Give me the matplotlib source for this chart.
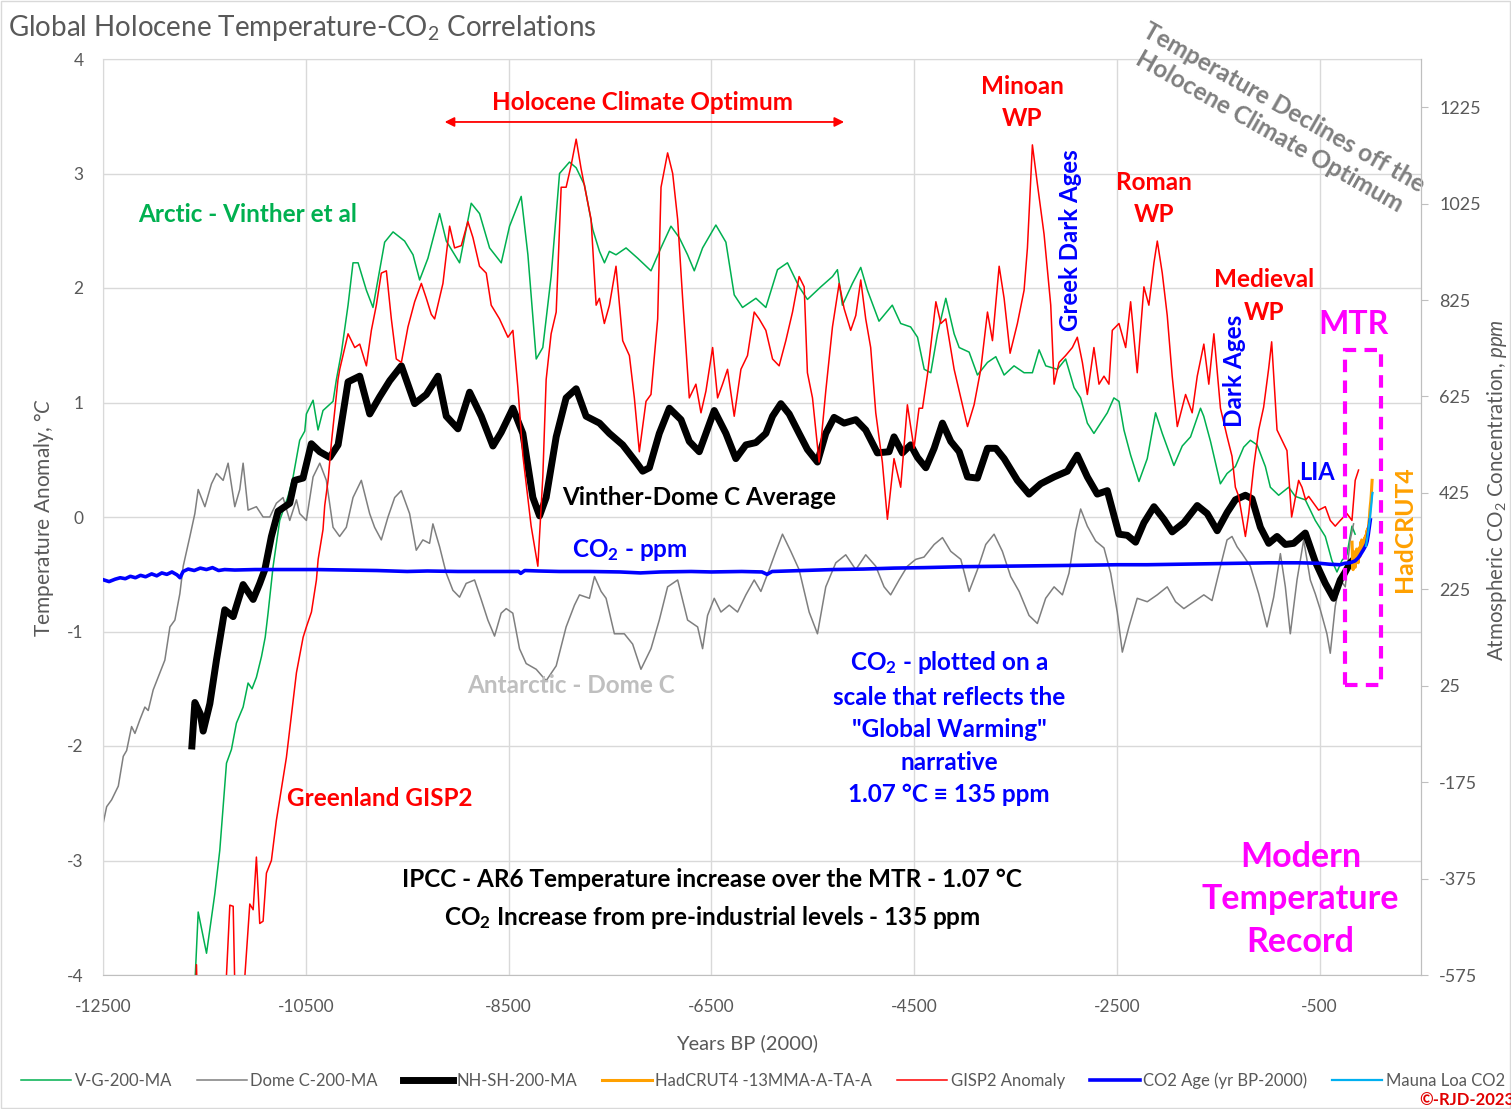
import matplotlib.pyplot as plt
from matplotlib.patches import Rectangle

plt.rcParams['font.family'] = ['Lato', 'DejaVu Sans']
plt.rcParams['mathtext.fontset'] = 'custom'
plt.rcParams['mathtext.rm'] = 'Lato'
plt.rcParams['mathtext.it'] = 'Lato:italic'
plt.rcParams['mathtext.bf'] = 'Lato:bold'
plt.rcParams['mathtext.default'] = 'regular'
plt.rcParams['axes.unicode_minus'] = False

# Arctic - Vinther et al (V-G-200-MA), years BP(2000) / anomaly degC
vg_year = [-11600, -11561, -11479, -11397, -11348, -11282, -11233, -11184, -11118, -11069,
           -11030, -10987, -10937, -10900, -10872, -10822, -10757, -10675, -10625, -10560,
           -10510, -10494, -10428, -10379, -10330, -10231, -10198, -10148, -10083, -10034,
           -9984, -9902, -9837, -9771, -9722, -9639, -9525, -9442, -9377, -9295,
           -9180, -9114, -8983, -8868, -8786, -8687, -8572, -8490, -8375, -8309,
           -8227, -8162, -8080, -7997, -7899, -7833, -7751, -7669, -7603, -7554,
           -7505, -7440, -7341, -7226, -7095, -6997, -6898, -6816, -6734, -6668,
           -6586, -6455, -6356, -6274, -6192, -6060, -5962, -5847, -5749, -5634,
           -5552, -5420, -5305, -5256, -5207, -5108, -5026, -4960, -4846, -4715,
           -4632, -4534, -4466, -4400, -4335, -4269, -4187, -4105, -4055, -3957,
           -3875, -3776, -3694, -3612, -3514, -3415, -3333, -3267, -3201, -3086,
           -3005, -2922, -2857, -2791, -2726, -2660, -2594, -2529, -2479, -2430,
           -2364, -2282, -2200, -2118, -2052, -1937, -1855, -1773, -1675, -1643,
           -1576, -1479, -1413, -1331, -1249, -1183, -1117, -1035, -986, -904,
           -805, -740, -641, -543, -444, -379, -329, -280, -231, -181, -150]
vg_temp = [-4.2, -3.45, -3.81, -3.29, -2.91, -2.15, -2.03, -1.80, -1.66, -1.45,
           -1.50, -1.40, -1.22, -1.05, -0.84, -0.43, -0.03, 0.18, 0.35, 0.67,
           0.75, 0.90, 1.02, 0.76, 0.93, 1.01, 1.20, 1.44, 1.85, 2.22,
           2.22, 1.98, 1.83, 2.16, 2.40, 2.49, 2.41, 2.29, 2.07, 2.26,
           2.65, 2.41, 2.22, 2.74, 2.65, 2.35, 2.22, 2.54, 2.80, 2.29,
           1.38, 1.48, 2.10, 3.00, 3.10, 3.05, 2.90, 2.51, 2.32, 2.22,
           2.32, 2.29, 2.35, 2.26, 2.15, 2.35, 2.54, 2.44, 2.29, 2.15,
           2.35, 2.55, 2.40, 1.94, 1.83, 1.91, 1.83, 2.16, 2.22, 2.01,
           1.90, 2.01, 2.10, 2.16, 1.85, 2.04, 2.18, 1.98, 1.71, 1.85,
           1.69, 1.66, 1.57, 1.29, 1.26, 1.60, 1.91, 1.60, 1.48, 1.44,
           1.24, 1.35, 1.40, 1.24, 1.32, 1.26, 1.26, 1.46, 1.32, 1.29,
           1.38, 1.13, 1.04, 0.82, 0.73, 0.82, 0.91, 1.04, 1.01, 0.76,
           0.54, 0.31, 0.51, 0.91, 0.73, 0.45, 0.62, 0.70, 0.95, 0.88,
           0.66, 0.29, 0.38, 0.44, 0.61, 0.67, 0.63, 0.44, 0.26, 0.19,
           0.26, 0.18, 0.15, -0.03, -0.17, -0.38, -0.48, -0.38, -0.33, -0.08, -0.15]

# Antarctic - Dome C (Dome C-200-MA)
dc_year = [-12497, -12464, -12415, -12349, -12300, -12267, -12218, -12185, -12136, -12087,
           -12054, -12005, -11939, -11890, -11840, -11791, -11742, -11709, -11643, -11594,
           -11561, -11495, -11430, -11380, -11315, -11266, -11200, -11151, -11118, -11069,
           -10987, -10921, -10855, -10790, -10724, -10658, -10592, -10560, -10494, -10428,
           -10362, -10297, -10231, -10166, -10100, -10034, -9952, -9870, -9821, -9755,
           -9689, -9623, -9558, -9476, -9410, -9345, -9279, -9246, -9180, -9115,
           -9049, -8983, -8918, -8835, -8770, -8704, -8638, -8573, -8523, -8458,
           -8392, -8326, -8227, -8129, -8030, -7932, -7850, -7800, -7702, -7652,
           -7587, -7538, -7456, -7358, -7276, -7194, -7095, -7013, -6931, -6832,
           -6734, -6635, -6586, -6537, -6471, -6405, -6323, -6241, -6159, -6077,
           -6011, -5929, -5863, -5798, -5716, -5634, -5535, -5453, -5371, -5272,
           -5174, -5075, -4977, -4878, -4796, -4731, -4648, -4566, -4484, -4402,
           -4302, -4220, -4138, -4039, -3957, -3875, -3793, -3711, -3629, -3547,
           -3464, -3366, -3284, -3202, -3119, -3037, -2972, -2906, -2857, -2791,
           -2709, -2627, -2561, -2496, -2446, -2381, -2299, -2200, -2102, -2003,
           -1921, -1839, -1740, -1642, -1561, -1495, -1413, -1364, -1314, -1265,
           -1183, -1101, -1019, -953, -887, -838, -789, -723, -657, -592,
           -543, -493, -428, -395, -346, -296, -247, -198, -165]
dc_temp = [-2.67, -2.53, -2.47, -2.35, -2.09, -2.04, -1.83, -1.89, -1.77, -1.66,
           -1.69, -1.51, -1.36, -1.25, -0.96, -0.90, -0.67, -0.43, -0.17, 0.03,
           0.24, 0.09, 0.29, 0.38, 0.32, 0.47, 0.09, 0.24, 0.47, 0.06,
           0.09, 0.00, 0.00, 0.12, 0.17, -0.03, 0.15, 0.03, -0.03, 0.35,
           0.47, 0.32, -0.09, -0.17, -0.09, 0.17, 0.32, 0.03, -0.09, -0.20,
           0.00, 0.17, 0.23, 0.03, -0.29, -0.20, -0.23, -0.06, -0.26, -0.49,
           -0.64, -0.70, -0.58, -0.55, -0.72, -0.90, -1.04, -0.84, -0.80, -0.84,
           -1.15, -1.28, -1.33, -1.43, -1.30, -0.96, -0.77, -0.68, -0.71, -0.52,
           -0.65, -0.71, -1.02, -1.02, -1.11, -1.33, -1.15, -0.90, -0.61, -0.55,
           -0.90, -0.96, -1.15, -0.86, -0.71, -0.83, -0.77, -0.83, -0.68, -0.55,
           -0.65, -0.46, -0.30, -0.15, -0.30, -0.46, -0.83, -1.02, -0.61, -0.40,
           -0.33, -0.46, -0.33, -0.43, -0.61, -0.68, -0.55, -0.43, -0.37, -0.35,
           -0.24, -0.18, -0.30, -0.37, -0.65, -0.46, -0.24, -0.15, -0.30, -0.52,
           -0.65, -0.86, -0.93, -0.71, -0.61, -0.68, -0.49, -0.12, 0.07, -0.08,
           -0.21, -0.27, -0.49, -0.83, -1.18, -0.96, -0.71, -0.74, -0.68, -0.61,
           -0.74, -0.80, -0.74, -0.68, -0.73, -0.49, -0.20, -0.17, -0.26, -0.32,
           -0.43, -0.67, -0.96, -0.70, -0.32, -0.61, -1.02, -0.55, -0.20, -0.55,
           -0.67, -0.81, -1.02, -1.19, -0.78, -0.55, -0.61, -0.20, -0.06]

# Vinther-Dome C average (NH-SH-200-MA)
avg_year = [-11623, -11594, -11540, -11512, -11446, -11381, -11299, -11216, -11118, -11019,
            -10954, -10904, -10839, -10773, -10658, -10609, -10527, -10445, -10362, -10263,
            -10181, -10083, -9968, -9869, -9771, -9672, -9557, -9426, -9311, -9196,
            -9114, -8999, -8884, -8769, -8654, -8572, -8457, -8359, -8260, -8194,
            -8129, -8030, -7932, -7833, -7735, -7603, -7505, -7374, -7243, -7177,
            -7111, -7013, -6914, -6799, -6717, -6619, -6553, -6471, -6356, -6258,
            -6159, -6060, -5962, -5896, -5814, -5732, -5634, -5552, -5453, -5371,
            -5289, -5190, -5075, -4977, -4862, -4747, -4698, -4615, -4534, -4466,
            -4384, -4302, -4220, -4138, -4055, -3973, -3875, -3776, -3694, -3612,
            -3481, -3366, -3251, -3119, -2988, -2890, -2791, -2693, -2594, -2479,
            -2397, -2315, -2233, -2134, -2036, -1954, -1839, -1707, -1609, -1510,
            -1412, -1331, -1232, -1167, -1084, -1002, -920, -838, -756, -641,
            -543, -444, -362, -296, -247, -198, -150]
avg_temp = [-2.00, -1.62, -1.72, -1.87, -1.63, -1.25, -0.81, -0.87, -0.59, -0.72,
            -0.58, -0.46, -0.17, 0.05, 0.12, 0.32, 0.34, 0.64, 0.57, 0.52,
            0.63, 1.18, 1.23, 0.90, 1.05, 1.19, 1.32, 0.99, 1.07, 1.23,
            0.88, 0.77, 1.09, 0.88, 0.62, 0.74, 0.95, 0.73, 0.17, 0.01,
            0.17, 0.70, 1.04, 1.12, 0.88, 0.82, 0.73, 0.63, 0.48, 0.40,
            0.43, 0.73, 0.95, 0.85, 0.66, 0.57, 0.73, 0.93, 0.73, 0.51,
            0.63, 0.65, 0.73, 0.88, 0.99, 0.90, 0.73, 0.59, 0.48, 0.73,
            0.87, 0.82, 0.85, 0.76, 0.56, 0.57, 0.70, 0.56, 0.63, 0.52,
            0.43, 0.60, 0.82, 0.66, 0.57, 0.35, 0.34, 0.60, 0.60, 0.51,
            0.32, 0.20, 0.29, 0.35, 0.40, 0.54, 0.35, 0.20, 0.23, -0.15,
            -0.16, -0.22, -0.05, 0.09, -0.02, -0.13, -0.05, 0.10, 0.03, -0.12,
            0.04, 0.15, 0.19, 0.16, -0.09, -0.23, -0.17, -0.24, -0.23, -0.14,
            -0.39, -0.58, -0.71, -0.55, -0.48, -0.40, -0.36]

# HadCRUT4 13-month moving average
had_year = [-180, -175, -170, -165, -160, -155, -150, -145, -140, -135,
            -130, -125, -120, -115, -110, -105, -100, -95, -90, -85,
            -80, -75, -70, -65, -60, -55, -50, -45, -40, -35,
            -30, -25, -20, -15, -10, -5, 0, 5, 10, 15, 18]
had_temp = [-0.22, -0.40, -0.46, -0.30, -0.42, -0.35, -0.44, -0.32, -0.38, -0.28,
            -0.36, -0.30, -0.40, -0.33, -0.27, -0.35, -0.30, -0.22, -0.28, -0.20,
            -0.27, -0.24, -0.29, -0.21, -0.26, -0.18, -0.22, -0.16, -0.20, -0.12,
            -0.15, -0.10, -0.12, -0.05, -0.02, 0.05, 0.10, 0.14, 0.20, 0.28, 0.32]

# Greenland GISP2 anomaly
gisp_year = [-11590, -11578, -11565, -11300, -11282, -11249, -11216, -11200, -11184, -11118,
             -11100, -11052, -11019, -10987, -10954, -10921, -10888, -10839, -10790, -10691,
             -10592, -10526, -10494, -10444, -10395, -10378, -10330, -10313, -10280, -10247,
             -10182, -10165, -10083, -10017, -9968, -9902, -9853, -9804, -9755, -9705,
             -9656, -9607, -9557, -9492, -9426, -9360, -9311, -9262, -9229, -9147,
             -9081, -9032, -8966, -8901, -8851, -8786, -8720, -8671, -8589, -8506,
             -8457, -8408, -8359, -8277, -8211, -8162, -8129, -8080, -8030, -7981,
             -7932, -7883, -7833, -7784, -7735, -7686, -7636, -7604, -7555, -7505,
             -7440, -7374, -7308, -7259, -7210, -7144, -7095, -7029, -6996, -6931,
             -6881, -6832, -6783, -6717, -6652, -6602, -6553, -6487, -6438, -6389,
             -6340, -6274, -6208, -6143, -6077, -6028, -5962, -5896, -5831, -5765,
             -5699, -5634, -5584, -5552, -5502, -5437, -5371, -5305, -5239, -5190,
             -5125, -5075, -5026, -4977, -4928, -4878, -4813, -4763, -4698, -4632,
             -4566, -4501, -4451, -4417, -4367, -4285, -4236, -4187, -4105, -4039,
             -3973, -3908, -3842, -3776, -3727, -3661, -3612, -3553, -3481, -3415,
             -3382, -3333, -3284, -3218, -3152, -3119, -3070, -3005, -2939, -2890,
             -2840, -2791, -2726, -2676, -2627, -2578, -2545, -2479, -2413, -2364,
             -2299, -2233, -2184, -2134, -2101, -2052, -2003, -1954, -1904, -1822,
             -1757, -1707, -1642, -1593, -1543, -1478, -1412, -1364, -1331, -1298,
             -1232, -1199, -1150, -1101, -1052, -1002, -973, -920, -871, -822,
             -776, -756, -707, -674, -638, -608, -559, -510, -444, -395,
             -346, -296, -231, -181, -149, -116]
gisp_temp = [-4.4, -3.91, -4.4, -4.4, -4.0, -3.39, -3.40, -4.1, -4.2, -4.2,
             -4.0, -3.38, -3.43, -2.97, -3.55, -3.53, -3.11, -3.00, -2.65, -2.10,
             -1.36, -1.05, -0.96, -0.83, -0.55, -0.37, -0.11, 0.10, 0.32, 0.65,
             1.20, 1.29, 1.60, 1.48, 1.51, 1.32, 1.63, 1.85, 2.13, 2.15,
             1.73, 1.38, 1.35, 1.66, 1.88, 2.04, 1.91, 1.77, 1.73, 2.04,
             2.54, 2.35, 2.37, 2.58, 2.44, 2.19, 2.13, 1.85, 1.73, 1.57,
             1.63, 1.13, 0.54, -0.08, -0.43, 0.35, 1.20, 1.60, 1.79, 2.88,
             2.88, 3.07, 3.30, 3.04, 2.82, 2.60, 1.85, 1.91, 1.69, 1.85,
             2.19, 1.54, 1.41, 1.04, 0.57, 1.01, 1.07, 1.73, 2.88, 3.18,
             3.00, 2.60, 1.91, 1.04, 1.16, 0.91, 1.10, 1.48, 1.04, 1.16,
             1.29, 0.88, 1.29, 1.41, 1.79, 1.73, 1.63, 1.38, 1.32, 1.54,
             1.79, 2.10, 2.01, 1.26, 1.04, 0.48, 1.10, 1.66, 2.04, 1.82,
             1.63, 1.76, 2.07, 1.73, 1.48, 0.91, 0.48, -0.02, 0.51, 0.26,
             0.98, 0.60, 0.95, 0.95, 1.25, 1.88, 1.69, 1.73, 1.29, 1.04,
             0.79, 0.98, 1.29, 1.79, 1.54, 2.19, 1.91, 1.43, 1.69, 1.98,
             2.35, 3.25, 2.91, 2.47, 1.85, 1.16, 1.35, 1.41, 1.48, 1.57,
             1.35, 1.07, 1.48, 1.16, 1.23, 1.16, 1.63, 1.69, 1.48, 1.88,
             1.26, 2.01, 1.85, 2.22, 2.41, 2.13, 1.76, 1.23, 0.79, 1.07,
             0.91, 1.23, 1.51, 1.16, 1.60, 0.95, 0.70, 0.53, 0.26, 0.18,
             -0.17, 0.03, 0.44, 0.76, 0.96, 1.30, 1.53, 0.76, 0.67, 0.58,
             0.00, 0.09, 0.32, 0.26, 0.15, 0.18, 0.12, 0.06, 0.09, -0.03,
             -0.08, -0.03, 0.03, -0.03, 0.32, 0.41]

# Ice-core CO2 (ppm) by age
co2_year = [-12500, -12440, -12380, -12330, -12280, -12230, -12180, -12130, -12080, -12020,
            -11970, -11920, -11870, -11820, -11770, -11740, -11710, -11660, -11600, -11540,
            -11480, -11420, -11360, -11300, -11200, -11000, -10700, -10400, -10100, -9800,
            -9500, -9300, -9000, -8700, -8400, -8380, -8340, -8200, -8000, -7700,
            -7400, -7200, -7000, -6700, -6500, -6200, -6000, -5950, -5900, -5600,
            -5300, -5000, -4700, -4400, -4000, -3600, -3200, -2800, -2500, -2200,
            -1900, -1600, -1300, -1000, -700, -500, -400, -300, -250, -200,
            -150, -120, -100, -80, -60, -40, -30, -20, -10, 0]
co2_ppm = [245, 241, 246, 249, 247, 252, 249, 254, 251, 257,
           253, 259, 256, 261, 255, 249, 262, 267, 264, 269,
           266, 270, 264, 266, 265, 266, 266, 266, 265, 264,
           262, 263, 262, 262, 262, 258, 264, 263, 262, 262,
           261, 259, 261, 262, 261, 262, 261, 256, 262, 264,
           266, 267, 269, 270, 272, 273, 274, 275, 276, 276,
           277, 278, 279, 280, 280, 279, 277, 276, 279, 280,
           284, 290, 296, 303, 310, 318, 326, 339, 354, 369]

# Mauna Loa CO2 (ppm)
ml_year = [-42, -35, -25, -15, -5, 5, 12, 18, 22]
ml_ppm = [315, 325, 338, 354, 370, 390, 405, 420, 425]

GREY_TXT = '#595959'
W, H = 1511, 1109

fig = plt.figure(figsize=(W / 100, H / 100), dpi=100)
ax = fig.add_axes([103 / W, 1 - 975 / H, 1318 / W, 916 / H])
ax2 = ax.twinx()

l_vg, = ax.plot(vg_year, vg_temp, color='#00b050', lw=1.1, label='V-G-200-MA')
l_dc, = ax.plot(dc_year, dc_temp, color='#7f7f7f', lw=1.1, label='Dome C-200-MA')
l_avg, = ax.plot(avg_year, avg_temp, color='black', lw=5, solid_joinstyle='round',
                 label='NH-SH-200-MA')
l_had, = ax.plot(had_year, had_temp, color='#ffa000', lw=2.2, label='HadCRUT4 -13MMA-A-TA-A')
l_gisp, = ax.plot(gisp_year, gisp_temp, color='#ff0000', lw=1.1, label='GISP2 Anomaly')
l_co2, = ax2.plot(co2_year, co2_ppm, color='#0000ff', lw=2.6, label='CO2 Age (yr BP-2000)')
l_ml, = ax2.plot(ml_year, ml_ppm, color='#00b0f0', lw=1.6, label='Mauna Loa CO2')

ax.set_xlim(-12500, 500)
ax.set_ylim(-4, 4)
ax.set_xticks(range(-12500, 0, 2000))
ax.set_yticks(range(-4, 5))
ax2.set_ylim(-575, 1325)
ax2.set_yticks(range(-575, 1226, 200))

ax.grid(True, color='#d9d9d9', lw=1)
ax.set_axisbelow(True)
for name, sp in ax.spines.items():
    sp.set_color('#d9d9d9' if name in ('left', 'top') else '#bfbfbf')
for name, sp in ax2.spines.items():
    sp.set_visible(name == 'right')
    sp.set_color('#bfbfbf')

ax.tick_params(axis='both', length=0, labelsize=12.5, labelcolor=GREY_TXT)
ax.tick_params(axis='x', pad=17)
ax.tick_params(axis='y', pad=14)
ax2.tick_params(axis='y', length=5, color='#bfbfbf', labelsize=13, labelcolor=GREY_TXT, pad=8)

ax.set_xlabel('Years BP (2000)', fontsize=14.5, color=GREY_TXT)
ax.xaxis.set_label_coords(0.489, -0.065)
ax.set_ylabel('Temperature Anomaly, $\\mathit{°C}$', fontsize=15, color=GREY_TXT)
ax.yaxis.set_label_coords(-0.036, 0.5)
ax2.set_ylabel('Atmospheric CO$_2$ Concentration, $\\mathit{ppm}$', fontsize=14.8,
               color=GREY_TXT)
ax2.yaxis.set_label_coords(1.0485, 0.53)

fig.text(8 / W, 1 - 28 / H, 'Global Holocene Temperature-CO$_2$ Correlations',
         fontsize=20, color=GREY_TXT, va='center', ha='left')

# annotations
bold = dict(fontweight='bold', ha='center', va='center')
FS = 17.5
ax.annotate('', xy=(-9130, 3.45), xytext=(-5190, 3.45),
            arrowprops=dict(arrowstyle='<|-|>', color='#ff0000', lw=1.3,
                            mutation_scale=14, shrinkA=0, shrinkB=0))
ax.text(-7180, 3.62, 'Holocene Climate Optimum', color='#ff0000', fontsize=FS, **bold)
ax.text(-3436, 3.62, 'Minoan\nWP', color='#ff0000', fontsize=FS, linespacing=1.5, **bold)
ax.text(-2136, 2.78, 'Roman\nWP', color='#ff0000', fontsize=FS, linespacing=1.5, **bold)
ax.text(-1052, 1.93, 'Medieval\nWP', color='#ff0000', fontsize=FS, linespacing=1.5, **bold)
ax.text(-2953, 2.42, 'Greek Dark Ages', color='#0000ff', fontsize=17.3, rotation=90, **bold)
ax.text(-1338, 1.28, 'Dark Ages', color='#0000ff', fontsize=FS, rotation=90, **bold)
ax.text(-530, 0.39, 'LIA', color='#0000ff', fontsize=17, **bold)
ax.text(-165, 1.68, 'MTR', color='#ff00ff', fontsize=23, **bold)
ax.text(337, -0.11, 'HadCRUT4', color='#ffa000', fontsize=17.8, rotation=90, **bold)
ax.text(-11071, 2.64, 'Arctic - Vinther et al', color='#00b050', fontsize=FS, **bold)
ax.text(-6618, 0.17, 'Vinther-Dome C Average', color='black', fontsize=FS, **bold)
ax.text(-7308, -0.29, 'CO$_2$ - ppm', color='#0000ff', fontsize=FS, **bold)
ax.text(-7880, -1.47, 'Antarctic - Dome C', color='#bfbfbf', fontsize=FS, **bold)
ax.text(-9771, -2.46, 'Greenland GISP2', color='#ff0000', fontsize=FS, **bold)
ax.text(-4155, -1.84, 'CO$_2$ - plotted on a\nscale that reflects the\n"Global Warming"\n'
        'narrative\n1.07 °C ≡ 135 ppm', color='#0000ff', fontsize=17.5, linespacing=1.5, **bold)
ax.text(-6490, -3.34, 'IPCC - AR6 Temperature increase over the MTR - 1.07 °C\n'
        'CO$_2$ Increase from pre-industrial levels - 135 ppm',
        color='black', fontsize=FS, linespacing=1.6, **bold)
ax.text(-688, -3.34, 'Modern\nTemperature\nRecord', color='#ff00ff', fontsize=24.5,
        linespacing=1.4, **bold)
ax.text(-924, 3.47, 'Temperature Declines off the\nHolocene Climate Optimum',
        color='#7f7f7f', fontsize=17.6, rotation=-29.5, rotation_mode='anchor',
        linespacing=1.25, clip_on=False, **bold)

ax2.add_patch(Rectangle((-254, -1.47), 355, 2.93, transform=ax.transData,
                        fill=False, edgecolor='#ff00ff', lw=3, linestyle=(0, (3, 2)),
                        zorder=5))

handles = [l_vg, l_dc, l_avg, l_had, l_gisp, l_co2, l_ml]
fig.legend(handles, [h.get_label() for h in handles], loc='center',
           bbox_to_anchor=(0.505, 1 - 1081 / H), ncol=7, frameon=False, fontsize=12,
           labelcolor=GREY_TXT, handlelength=3, handletextpad=0.2, columnspacing=1.5)

fig.text(1.002, 1 - 1100 / H, '©-RJD-2023', color='#e00000', fontsize=12,
         fontweight='bold', ha='right', va='center')
fig.add_artist(Rectangle((0.0005, 0.0005), 0.999, 0.999, transform=fig.transFigure,
                         fill=False, edgecolor='#d9d9d9', lw=1))

fig.savefig('out.png', dpi=100)
